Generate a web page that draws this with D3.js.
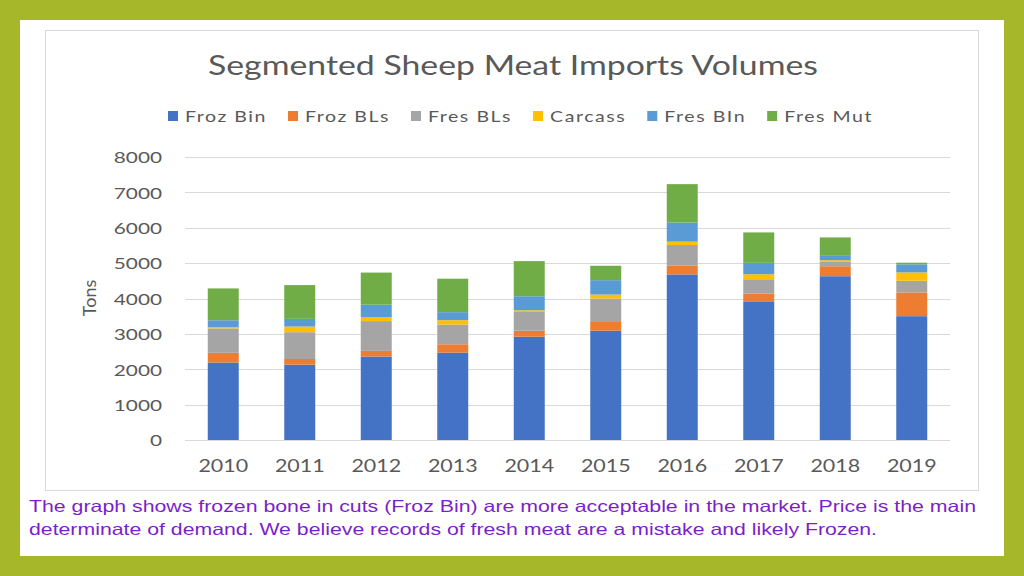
<!DOCTYPE html>
<html><head><meta charset="utf-8">
<script src="https://cdn.jsdelivr.net/npm/d3@7"></script>
<style>html,body{margin:0;padding:0;background:#A7B72A;}svg{display:block;}</style>
</head><body>
<svg id="c" width="1024" height="576"></svg>
<script>
const years = ["2010","2011","2012","2013","2014","2015","2016","2017","2018","2019"];
const seriesNames = ["Froz Bin","Froz BLs","Fres BLs","Carcass","Fres BIn","Fres Mut"];
const frozBin = [2190,2130,2360,2470,2920,3090,4680,3920,4630,3500];
const frozBLs = [275,160,160,236,170,246,246,218,283,671];
const fresBLs = [690,757,841,558,530,662,586,406,123,331];
const carcass = [40,160,114,123,47,113,95,142,47,236];
const fresBIn = [190,217,350,227,397,407,539,322,142,227];
const fresMut = [900,955,908,946,993,407,1087,860,501,47];
const yTicks = [0,1000,2000,3000,4000,5000,6000,7000,8000];
const colors = ["#4472C4","#ED7D31","#A5A5A5","#FFC000","#5B9BD5","#70AD47"];
const title = "Segmented Sheep Meat Imports Volumes";
const yTitle = "Tons";
const note = ["The graph shows frozen bone in cuts (Froz Bin) are more acceptable in the market. Price is the main",
              "determinate of demand. We believe records of fresh meat are a mistake and likely Frozen."];

const allSeries = [frozBin,frozBLs,fresBLs,carcass,fresBIn,fresMut];
const table = years.map((y,i)=>{const o={year:y}; seriesNames.forEach((s,j)=>o[s]=allSeries[j][i]); return o;});
const stacked = d3.stack().keys(seriesNames)(table);

const FONT = "Lato, 'Open Sans', sans-serif";
const SX = 1.3;
function stretch(sel, k){
  sel.each(function(){
    const L = this.getComputedTextLength();
    d3.select(this).attr("textLength", L*k).attr("lengthAdjust","spacingAndGlyphs");
  });
}

const svg = d3.select("#c");
svg.append("rect").attr("x",20).attr("y",20).attr("width",984).attr("height",536).attr("fill","#fff");
svg.append("rect").attr("x",45.5).attr("y",30.5).attr("width",933).attr("height",460).attr("fill","#fff").attr("stroke","#D9D9D9").attr("stroke-width",1);

const x = d3.scaleBand().domain(years).range([185,950]).paddingInner(0.595).paddingOuter(0.2975);
const y = d3.scaleLinear().domain([0,8000]).range([440,157]);

svg.append("g").selectAll("line").data(yTicks).join("line")
  .attr("x1",185).attr("x2",950).attr("y1",d=>Math.round(y(d))+0.5).attr("y2",d=>Math.round(y(d))+0.5)
  .attr("stroke","#D9D9D9").attr("stroke-width",1);

const yAxis = d3.axisLeft(y).tickValues(yTicks).tickSize(0).tickPadding(0).tickFormat(d3.format("d"));
const ya = svg.append("g").attr("transform","translate(162,0)").call(yAxis);
ya.select(".domain").remove();
ya.selectAll("text").attr("font-family",FONT).attr("font-size",16).attr("fill","#595959").attr("dy","0.36em").call(stretch,SX);

const xAxis = d3.axisBottom(x).tickSize(0).tickPadding(0);
const xa = svg.append("g").attr("transform","translate(0,472)").call(xAxis);
xa.select(".domain").remove();
xa.selectAll("text").attr("font-family",FONT).attr("font-size",16.5).attr("fill","#595959").attr("y",0).attr("dy",0).call(stretch,SX);

svg.append("g").selectAll("g").data(stacked).join("g").attr("fill",(d,i)=>colors[i])
  .selectAll("rect").data(d=>d).join("rect")
  .attr("x",d=>x(d.data.year)).attr("width",x.bandwidth())
  .attr("y",d=>y(d[1])).attr("height",d=>y(d[0])-y(d[1]));

svg.append("text").attr("x",513).attr("y",75).attr("text-anchor","middle")
  .attr("font-family",FONT).attr("font-size",26).attr("fill","#595959").text(title).call(stretch,SX);

svg.append("text").attr("transform","translate(96,298) rotate(-90)").attr("text-anchor","middle")
  .attr("font-family",FONT).attr("font-size",18).attr("fill","#595959").text(yTitle);

const lg = svg.append("g");
let lx = 168;
seriesNames.forEach((s,i)=>{
  const g = lg.append("g").attr("transform",`translate(${lx},0)`);
  g.append("rect").attr("x",0).attr("y",111).attr("width",10).attr("height",10).attr("fill",colors[i]);
  const t = g.append("text").attr("x",17).attr("y",122).attr("font-family",FONT)
    .attr("font-size",15).attr("letter-spacing","1.2px").attr("fill","#595959").text(s);
  const L = t.node().getComputedTextLength()*1.3;
  t.attr("textLength",L).attr("lengthAdjust","spacingAndGlyphs");
  lx += 17 + L + 21;
});

svg.append("g").selectAll("text").data(note).join("text")
  .attr("x",29).attr("y",(d,i)=>512+i*23)
  .attr("font-family","'Liberation Sans', Arial, sans-serif").attr("font-size",16.5).attr("fill","#7B1FCC")
  .attr("textLength",(d,i)=>i===0?947:848).attr("lengthAdjust","spacingAndGlyphs").text(d=>d);
</script>
</body></html>
